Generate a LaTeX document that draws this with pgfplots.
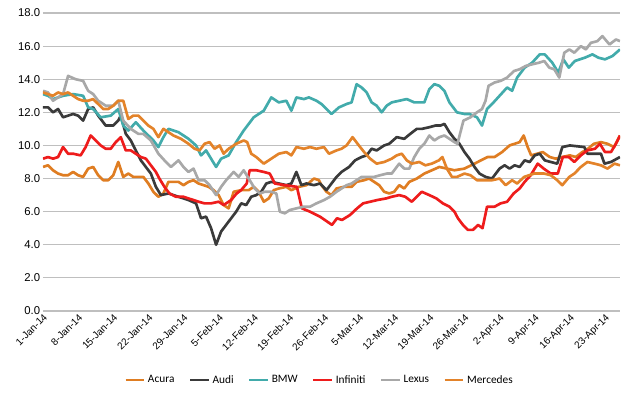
\documentclass[border=0pt]{standalone}
\usepackage{fontspec}
\setmainfont{Carlito}
\newfontfamily\tickfont{Liberation Sans}
\usepackage{pgfplots}
\usepackage{pgfplotstable}
\pgfplotsset{compat=1.18}
\definecolor{acura}{HTML}{DF7D22}
\definecolor{audi}{HTML}{3A3A3A}
\definecolor{bmw}{HTML}{42ABAB}
\definecolor{infiniti}{HTML}{EE1C1C}
\definecolor{lexus}{HTML}{A8A8A8}
\definecolor{mercedes}{HTML}{E3832A}
\definecolor{gridc}{HTML}{BFBFBF}

\pgfplotstableread{
x y
0 8.7
1 8.8
2 8.5
3 8.3
4 8.2
5 8.2
6 8.4
7 8.2
8 8.1
9 8.6
10 8.7
11 8.2
12 7.9
13 7.9
14 8.2
15 9.0
16 8.1
17 8.3
18 8.1
19 8.1
20 8.1
21 7.7
22 7.2
23 6.9
24 7.1
25 7.8
26 7.8
27 7.8
28 7.6
29 7.8
30 7.9
31 7.7
32 7.6
33 7.5
34 7.3
35 7.0
36 6.4
37 6.2
38 7.2
39.5 7.3
41 7.3
42 7.5
43 7.2
44 6.6
45 6.8
46 7.3
47 7.4
48.5 7.5
49.5 7.3
51 7.5
52.5 7.6
54 8.0
55 7.9
55.5 7.6
56.5 7.2
57.5 7.0
58.5 7.4
60 7.5
61.5 7.5
62.5 7.8
64 7.9
65 8.0
66 7.8
67 7.6
68 7.2
69 7.1
70 7.2
71 7.6
72 7.4
73 7.8
74.5 8.0
76 8.3
77.5 8.5
79 8.7
80.5 8.6
82 8.5
84 8.6
86 8.9
88.6 9.3
90 9.3
91.5 9.6
93 10.0
94 10.1
95 10.2
95.8 10.6
96.6 9.9
97.3 9.4
98.5 9.5
99.6 9.6
101 9.3
102.2 9.2
103.5 9.3
105 9.4
106.2 9.3
107.5 9.6
108.6 9.8
109.8 10.1
111.2 10.2
112.5 10.1
113.8 9.9
115 10.6
}\acura

\pgfplotstableread{
x y
0 12.3
1 12.3
2 12.0
3 12.2
4 11.7
5 11.8
6 11.9
7 11.8
8 11.5
9 12.2
10 12.3
11 11.8
12.5 11.2
14 11.2
15 11.5
15.5 11.8
16.5 10.7
17.5 10.3
18.5 9.7
19.5 9.1
20.5 8.7
21.5 8.3
22.5 7.5
23.5 7.0
25 7.1
27 6.9
29 6.7
30.5 6.5
31.5 5.6
32.5 5.7
33.5 5.0
34.5 4.0
35.5 4.8
36.5 5.2
37.5 5.6
38.5 6.0
39.5 6.5
40.5 6.4
41.5 6.9
42.5 7.0
43.5 7.2
44.5 7.7
45.5 7.8
47 7.7
48.5 7.6
49.5 7.7
50.5 8.4
51.5 7.6
52.5 7.7
54 7.6
55.2 7.7
56.5 7.3
57.5 7.7
58.5 8.1
59.5 8.4
61 8.7
62.2 9.1
63.5 9.3
64.5 9.4
65.5 9.8
66.5 9.7
68 10.0
69 10.1
70.5 10.5
72 10.4
73.2 10.7
74.5 11.0
75.5 11.0
77 11.1
78.2 11.2
79.2 11.2
80 11.3
81 10.8
82 10.4
83 10.1
84 9.6
85 9.2
86 8.7
87 8.3
88.2 8.1
89.5 8.0
91 8.6
92 8.8
93 8.6
94 8.8
95 8.7
96 9.1
97 9.0
98 9.4
99 9.5
100 9.1
101.2 9.0
102.5 8.9
103.5 9.9
105 10.0
107.9 9.9
108.5 9.5
110 9.5
111.2 9.5
111.9 8.9
113.2 9.0
115 9.3
}\audi

\pgfplotstableread{
x y
0 13.1
1 13.0
2 12.8
4 13.0
6 13.1
8 13.0
9 12.3
10 12.2
11.5 11.7
13.5 11.8
15 12.2
16 11.2
17 10.9
18.5 11.4
20 10.9
22 10.3
23 9.9
24 10.5
25 11.0
27 10.8
29 10.4
30.5 10.0
31.5 9.4
32.5 9.7
34.5 8.7
35.5 9.2
37 9.4
38.5 10.2
40 10.9
42 11.7
43 11.9
44 12.1
45.5 12.9
47 12.6
48.5 12.7
49.5 12.1
50.5 12.9
52 12.8
53 12.9
54.5 12.7
55.5 12.5
57.5 11.9
59 12.3
60.5 12.5
61.5 12.6
62.5 13.7
63.5 13.5
64.5 13.2
65.5 12.6
66.5 12.4
67.5 12.0
68.5 12.4
69.5 12.6
71 12.7
72.5 12.8
74 12.6
75 12.6
76 12.6
77 13.4
78 13.7
79 13.6
80 13.3
81 12.6
82.5 12.0
84 11.9
85 11.9
86.5 11.7
87.5 11.2
88.5 12.2
89.5 12.5
91 13.0
92.5 13.5
93.5 13.3
94.5 14.1
96 14.7
97.5 15.0
99 15.5
100 15.5
101.5 15.0
102.7 14.4
103.7 15.2
104.8 14.7
106 15.1
108 15.3
109.5 15.5
110.7 15.3
112 15.2
113.5 15.4
115 15.8
}\bmw

\pgfplotstableread{
x y
0 9.2
1 9.3
2 9.2
3 9.3
4 9.9
5 9.5
6 9.5
7.5 9.4
8.5 9.9
9.5 10.6
10.5 10.3
11.5 10.0
12.5 9.8
13.5 9.8
14.5 10.2
15.5 10.5
16.5 9.7
17.5 9.7
18.5 9.5
19.5 9.3
20.5 9.2
21.5 8.8
22.5 8.4
23.2 8.0
24.2 7.5
25.2 7.1
26.5 6.9
28 6.9
29 6.8
30 6.7
31 6.6
32.2 6.5
33.5 6.5
35 6.6
36 6.4
37.5 6.7
38.6 7.1
39.5 7.3
40.6 7.7
41.2 8.5
42.5 8.5
44 8.4
45.2 8.3
46.2 7.7
48.2 7.6
50.6 7.5
51.6 6.2
53.2 6.0
55.2 5.7
57.6 5.2
58.6 5.6
59.6 5.5
61.2 5.8
62.6 6.2
63.8 6.5
65.2 6.6
66.6 6.7
68.4 6.8
69.5 6.9
71 7.0
72.2 6.9
73.5 6.6
74.5 6.9
75.5 7.2
77 7.0
78.4 6.8
79.7 6.5
81 6.3
82 6.0
82.7 5.6
83.7 5.2
84.7 4.9
85.7 4.9
86.7 5.2
87.6 5.0
88.5 6.3
90 6.3
91.2 6.5
92.5 6.6
93.8 7.1
95 7.4
96 7.8
97.2 8.2
98.6 8.9
99.8 8.6
101.2 8.3
102.6 8.3
103.6 9.3
104.8 9.3
105.9 9.0
107.2 9.4
108.5 9.7
110 9.8
111 10.1
112 9.6
113.2 9.6
114.2 10.1
115 10.6
}\infiniti

\pgfplotstableread{
x y
0 13.3
1 13.2
2 12.7
3 12.9
4 13.1
5 14.2
6.5 14.0
8 13.9
9 13.3
10 13.1
11 12.7
12.5 12.4
14 12.4
15 12.7
16 11.5
17.5 11.0
19 10.7
20 10.7
21.5 10.3
23 9.5
24.2 9.1
25.5 8.7
27 9.1
28 8.7
29 8.4
30 8.6
31 7.9
32.2 7.9
33.2 7.6
34.5 7.0
35.5 7.5
36.5 7.9
38 8.4
39 8.1
40 8.5
41.2 7.9
42.2 7.4
43.2 7.1
44.2 7.2
45.5 7.2
46.5 7.1
47.2 6.0
48.2 5.9
49.2 6.1
50.5 6.2
52 6.3
53.2 6.3
54.5 6.5
56 6.7
57.2 6.9
58.5 7.2
59.5 7.4
60.5 7.6
61.5 7.7
62.5 7.9
63.5 8.1
65 8.1
66 8.1
67.2 8.2
68.5 8.3
69.5 8.3
71 8.9
72 8.6
73 8.6
74 9.3
75 9.8
76 10.1
77 10.6
78 10.3
79 10.5
80 10.6
81 10.4
82 10.2
82.6 10.1
83.8 11.5
85.2 11.7
86.5 12.0
87.5 12.2
88.2 12.7
88.8 13.6
90 13.8
91.2 13.9
92.5 14.1
93.9 14.5
95 14.6
96.2 14.8
97.5 14.9
98.9 15.0
99.9 15.1
100.9 14.7
101.9 14.6
102.9 14.1
103.9 15.6
104.9 15.8
105.9 15.6
107.2 16.0
108.2 15.8
109.2 16.2
110.5 16.3
111.5 16.6
112.9 16.1
114.2 16.4
115 16.3
}\lexus

\pgfplotstableread{
x y
0 13.2
1 13.1
2 13.0
3 13.2
4 13.1
5 13.2
6 13.0
7 12.8
8 12.7
9 12.7
10 12.8
11 12.5
12 12.2
13 12.2
14 12.4
15 12.7
16 12.7
17 11.6
18 11.8
19 11.8
20 11.5
21 11.2
22 11.0
23 10.5
24 11.0
25 10.8
26 10.6
27.5 10.4
29 10.1
30.2 9.8
31.2 9.7
32.2 10.1
33.2 10.2
34.2 9.8
35.2 10.0
36 9.5
37 9.8
38.5 10.1
40 10.3
40.7 10.2
41.5 9.5
42.5 9.3
44 8.9
45.5 9.2
47 9.5
48.5 9.6
49.5 9.4
50.5 9.9
52 9.8
53.2 9.9
54.5 9.8
56 9.9
57 9.5
58.5 9.7
59.5 9.8
60.5 10.0
61.7 10.5
62.7 10.1
64 9.6
65.2 9.2
66.5 8.9
68 9.0
69.5 9.2
70.5 9.4
71.5 9.5
72.5 9.1
73.5 8.9
75 9.0
76.2 8.8
77.5 8.9
78.9 9.1
79.6 9.3
80.5 8.6
81.5 8.1
82.5 8.1
84 8.3
85.2 8.2
86.5 7.9
88 7.9
89.5 7.9
91 8.0
92.2 7.6
93.5 7.9
94.5 7.7
95.9 8.1
97.9 8.3
99.9 8.3
101.2 8.2
102.5 7.9
103.5 7.6
104.9 8.1
105.9 8.3
107.2 8.7
108.5 9.0
109.9 8.9
111.2 8.8
112.5 8.6
113.9 8.9
115 8.8
}\mercedes

\begin{document}
\begin{tikzpicture}
\begin{axis}[
  at={(0,0)}, anchor=south west,
  scale only axis,
  width=432.75pt, height=223.5pt,
  xmin=0, xmax=115, ymin=0, ymax=18,
  ytick={0,2,...,18},
  xtick={0,7,...,112},
  xticklabels={1-Jan-14,8-Jan-14,15-Jan-14,22-Jan-14,29-Jan-14,5-Feb-14,12-Feb-14,19-Feb-14,26-Feb-14,5-Mar-14,12-Mar-14,19-Mar-14,26-Mar-14,2-Apr-14,9-Apr-14,16-Apr-14,23-Apr-14},
  xticklabel style={rotate=45, anchor=north east, inner sep=1pt, font=\tickfont\fontsize{7.5}{8}\selectfont, color=black},
  yticklabel style={font=\tickfont\fontsize{8.5}{9}\selectfont, color=black, inner sep=2pt},
  /pgf/number format/assume math mode=true,
  yticklabel={\pgfmathprintnumber[fixed,fixed zerofill,precision=1]{\tick}},
  ymajorgrids,
  grid style={gridc, line width=0.8pt},
  axis x line*=bottom,
  axis y line*=left,
  x axis line style={gridc, line width=0.8pt, -},
  y axis line style={draw=none},
  major tick length=0pt,
  tick style={draw=none},
  legend columns=6,
  legend style={at={(0.48,-0.232)}, anchor=center, draw=none, fill=none,
    font=\fontsize{8.5}{9}\selectfont, /tikz/every even column/.append style={column sep=9pt}},
  legend image code/.code={\draw[#1, line width=1.6pt] (0pt,0pt) -- (14pt,0pt);},
  every axis plot/.append style={line width=2pt, line join=round, no markers},
]
\addplot[acura] table {\acura};
\addlegendentry{Acura}
\addplot[audi] table {\audi};
\addlegendentry{Audi}
\addplot[bmw] table {\bmw};
\addlegendentry{BMW}
\addplot[infiniti] table {\infiniti};
\addlegendentry{Infiniti}
\addplot[lexus] table {\lexus};
\addlegendentry{Lexus}
\addplot[mercedes] table {\mercedes};
\addlegendentry{Mercedes}
\end{axis}
\pgfresetboundingbox
\useasboundingbox (-32.25pt,-65.25pt) rectangle (447.75pt,233.25pt);
\end{tikzpicture}
\end{document}
